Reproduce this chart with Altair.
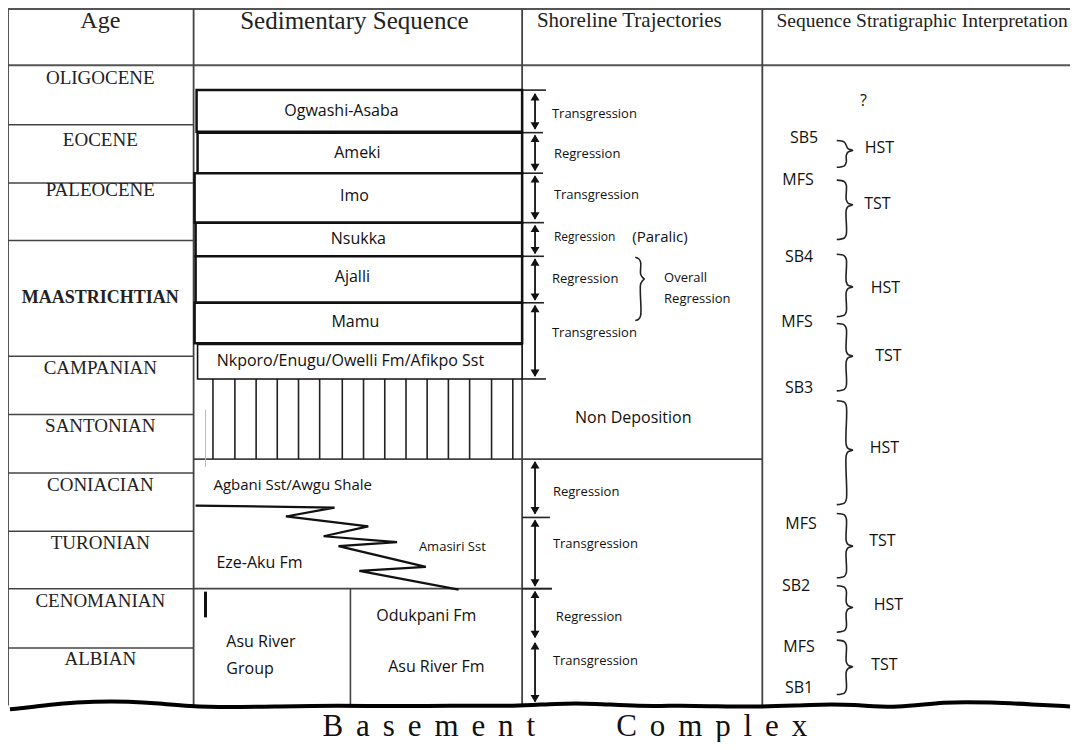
import altair as alt
import pandas as pd

# ------------------------------------------------------------------
# Data (positions are in the reference picture's pixel space)
# ------------------------------------------------------------------
X_DOMAIN = [8, 1078]
Y_DOMAIN = [6, 748]
W, H = 1062, 734
SERIF = "Liberation Serif"
SANS = "Open Sans"

headers = ["Age", "Sedimentary Sequence", "Shoreline Trajectories",
           "Sequence Stratigraphic Interpretation"]
header_x = [101, 357, 634, 929]
header_size = [24, 25, 21, 19.5]
header_y = 19

col_edges = [8, 195, 526, 768]
table_top, header_bottom, table_bottom, table_right = 7, 64, 711, 1078

ages = ["OLIGOCENE", "EOCENE", "PALEOCENE", "MAASTRICHTIAN", "CAMPANIAN",
        "SANTONIAN", "CONIACIAN", "TURONIAN", "CENOMANIAN", "ALBIAN"]
age_label_y = [77, 139, 190, 299, 370, 429, 488, 547, 605, 664]
age_bounds = [124, 183, 241, 358, 417, 476, 535, 593, 653]

formations = ["Ogwashi-Asaba", "Ameki", "Imo", "Nsukka", "Ajalli", "Mamu",
              "Nkporo/Enugu/Owelli Fm/Afikpo Sst"]
form_left = [198, 199, 196, 197, 197, 196, 199]
form_top = [89, 132, 173, 223, 257, 304, 346]
form_bottom = [131, 173, 223, 257, 304, 345, 381]
form_stroke = [2.5, 2.5, 2.5, 2.5, 2.5, 2.5, 1.6]
form_label_x = [344, 360, 357, 361, 355, 358, 353]
form_label_y = [110, 153, 196, 240, 278, 323, 363]

hatch_x = [214.5, 236.6, 258, 279.3, 300.7, 322, 344.8, 366.2, 387.6, 409,
           430.3, 451.7, 473.1, 495.2, 516.6]
hatch_top, hatch_bottom = 381, 462

lower_labels = ["Agbani Sst/Awgu Shale", "Eze-Aku Fm", "Amasiri Sst", "Odukpani Fm",
                "Asu River", "Group", "Asu River Fm"]
lower_x = [215, 218, 422, 379, 228, 228, 391]
lower_y = [488, 567, 551, 621, 647, 674, 672]
lower_size = [15, 16, 13, 16, 16, 16, 16]

zig_x = [197, 337, 288, 371, 326, 400, 341, 429, 362, 462]
zig_y = [509, 511, 520, 530, 540, 546, 550, 571, 575, 594]

arrow_x = 539
arrow_top = [90, 132, 173, 223, 257, 304, 462, 521, 593, 645]
arrow_bottom = [131, 173, 222, 257, 304, 381, 520, 593, 645, 710]
stub_y = [89, 132, 173, 223, 257, 304, 381, 521, 593]
stub_end = [550, 547, 547, 548, 548, 548, 550, 554, 556]

shore_labels = ["Transgression", "Regression", "Transgression", "Regression", "(Paralic)",
                "Regression", "Overall", "Regression", "Transgression",
                "Regression", "Transgression", "Regression", "Transgression"]
shore_x = [556, 558, 558, 558, 637, 556, 669, 669, 556, 557, 557, 560, 557]
shore_y = [113, 154, 195, 238, 237, 280, 279, 300, 335, 495, 548, 622, 666]
shore_size = [13, 13, 13, 12, 15, 13, 13, 13, 13, 13, 13, 13, 13]

non_dep = "Non Deposition"
non_dep_xy = (638, 420)

surfaces = ["?", "SB5", "MFS", "SB4", "MFS", "SB3", "MFS", "SB2", "MFS", "SB1"]
surf_x = [870, 810, 804, 805, 803, 805, 807, 802, 805, 805]
surf_y = [100, 137, 180, 258, 323, 390, 528, 590, 652, 693]

tracts = ["HST", "TST", "HST", "TST", "HST", "TST", "HST", "TST"]
tract_x = [886, 884, 892, 895, 891, 889, 895, 891]
tract_y = [148, 204, 289, 358, 451, 545, 610, 670]
brace_top = [140, 180, 255, 325, 403, 517, 590, 645]
brace_bottom = [167, 240, 318, 393, 508, 582, 637, 700]
brace_tip = [150, 205, 288, 358, 453, 550, 612, 672]

wave_x = [10, 30, 60, 95, 130, 160, 190, 230, 280, 340, 400, 460, 520, 560, 600,
          640, 700, 760, 820, 860, 905, 950, 1000, 1040, 1078]
wave_y = [715, 713, 709, 707, 707, 709, 712, 713, 712, 711, 712, 711, 712, 709, 709,
          712, 711, 713, 710, 710, 714, 707, 708, 710, 712]

basement_words = ["Basement", "Complex"]
basement_x = [432, 717]
basement_y = 733

# ------------------------------------------------------------------
xs = alt.Scale(domain=X_DOMAIN, nice=False, zero=False)
ys = alt.Scale(domain=Y_DOMAIN, nice=False, zero=False, reverse=True)


def X(f):
    return alt.X(f, type="quantitative", scale=xs, axis=None)


def Y(f):
    return alt.Y(f, type="quantitative", scale=ys, axis=None)


# ---------- straight lines ----------
rules = []
rules.append((8, table_top, table_right, table_top, 2, "#555"))
rules.append((8, header_bottom, table_right, header_bottom, 2, "#555"))
for cx in col_edges:
    rules.append((cx, table_top, cx, table_bottom, 1.8, "#444"))
for yb in age_bounds:
    rules.append((8, yb, col_edges[1], yb, 1.5, "#444"))
rules.append((195, hatch_bottom, 768, hatch_bottom, 1.8, "#444"))
rules.append((195, 593, 556, 593, 1.6, "#444"))
rules.append((353, 593, 353, table_bottom, 1.6, "#444"))
rules.append((207, 596, 207, 622, 3, "#111"))
rules.append((207, 412, 207, 470, 1, "#bbb"))
for hx in hatch_x:
    rules.append((hx, hatch_top, hx, hatch_bottom, 1.6, "#222"))
for sy, se in zip(stub_y, stub_end):
    rules.append((526, sy, se, sy, 1.6, "#222"))
for t, b in zip(arrow_top, arrow_bottom):
    rules.append((arrow_x, t + 3, arrow_x, b - 3, 1.8, "#111"))
rules_df = pd.DataFrame(rules, columns=["x", "y", "x2", "y2", "w", "c"])

rule_layer = alt.Chart(rules_df).mark_rule().encode(
    x=X("x"), x2=alt.X2("x2"), y=Y("y"), y2=alt.Y2("y2"),
    strokeWidth=alt.StrokeWidth("w:Q", scale=None),
    color=alt.Color("c:N", scale=None),
)

# ---------- formation boxes ----------
boxes_df = pd.DataFrame({"x": form_left, "x2": [526] * len(form_left),
                         "y": form_top, "y2": form_bottom, "w": form_stroke})
box_layer = alt.Chart(boxes_df).mark_rect(fill="white", stroke="#111").encode(
    x=X("x"), x2=alt.X2("x2"), y=Y("y"), y2=alt.Y2("y2"),
    strokeWidth=alt.StrokeWidth("w:Q", scale=None),
)

# ---------- arrow heads ----------
UP = "M0,0L0.6,1L-0.6,1Z"
DOWN = "M0,0L0.6,-1L-0.6,-1Z"
heads = []
for t, b in zip(arrow_top, arrow_bottom):
    heads.append((arrow_x, t + 2, UP))
    heads.append((arrow_x, b - 2, DOWN))
heads_df = pd.DataFrame(heads, columns=["x", "y", "s"])
head_layer = alt.Chart(heads_df).mark_point(
    filled=True, color="#111", opacity=1, size=220, strokeWidth=0
).encode(x=X("x"), y=Y("y"), shape=alt.Shape("s:N", scale=None))

# ---------- zigzag (interfingering) ----------
zig_df = pd.DataFrame({"x": zig_x, "y": zig_y, "o": list(range(len(zig_x)))})
zig_layer = alt.Chart(zig_df).mark_line(color="#111", strokeWidth=2.2).encode(
    x=X("x"), y=Y("y"), order=alt.Order("o:Q"))


# ---------- braces ----------
def brace_points(bid, x0, t, b, m, w):
    xv = x0 + w * 0.6
    xt = x0 + w
    pts = [(x0, t), (xv - 2, t + 1.5), (xv, t + 5), (xv, m - 5), (xv + 2, m - 1.5),
           (xt, m), (xv + 2, m + 1.5), (xv, m + 5), (xv, b - 5), (xv - 2, b - 1.5), (x0, b)]
    return [(bid, i, px, py) for i, (px, py) in enumerate(pts)]


brace_rows = []
for i, (t, b, m) in enumerate(zip(brace_top, brace_bottom, brace_tip)):
    brace_rows += brace_points(i, 843, t, b, m, 16)
brace_rows += brace_points(99, 640, 258, 322, 280, 9)
brace_df = pd.DataFrame(brace_rows, columns=["id", "o", "x", "y"])
brace_layer = alt.Chart(brace_df).mark_line(
    color="#222", strokeWidth=1.6, interpolate="catmull-rom"
).encode(x=X("x"), y=Y("y"), detail="id:N", order=alt.Order("o:Q"))

# ---------- basement wavy line ----------
wave_df = pd.DataFrame({"x": wave_x, "y": wave_y, "o": list(range(len(wave_x)))})
wave_layer = alt.Chart(wave_df).mark_line(
    color="#000", strokeWidth=4, interpolate="basis"
).encode(x=X("x"), y=Y("y"), order=alt.Order("o:Q"))


# ---------- text ----------
def text_layer(df, font, align, weight="normal", color="#111"):
    return alt.Chart(df).mark_text(
        font=font, align=align, baseline="middle", fontWeight=weight, color=color
    ).encode(x=X("x"), y=Y("y"), text="t:N", size=alt.Size("s:Q", scale=None))


hdr_df = pd.DataFrame({"t": headers, "x": header_x, "y": [header_y] * 4, "s": header_size})
age_names = [a for a in ages if a != "MAASTRICHTIAN"]
age_ys = [y for a, y in zip(ages, age_label_y) if a != "MAASTRICHTIAN"]
age_df = pd.DataFrame({"t": age_names, "x": [101] * len(age_names), "y": age_ys,
                       "s": [19] * len(age_names)})
maas_df = pd.DataFrame({"t": ["MAASTRICHTIAN"], "x": [101],
                        "y": [age_label_y[ages.index("MAASTRICHTIAN")]], "s": [18]})

form_df = pd.DataFrame({"t": formations + [non_dep],
                        "x": form_label_x + [non_dep_xy[0]],
                        "y": form_label_y + [non_dep_xy[1]],
                        "s": [16] * len(formations) + [16]})
left_df = pd.DataFrame({"t": lower_labels + shore_labels,
                        "x": lower_x + shore_x,
                        "y": lower_y + shore_y,
                        "s": lower_size + shore_size})
seq_df = pd.DataFrame({"t": surfaces + tracts, "x": surf_x + tract_x,
                       "y": surf_y + tract_y, "s": [16] * (len(surfaces) + len(tracts))})

GAP = "\u00a0\u2006"
base_df = pd.DataFrame({"t": [GAP.join(list(w)) for w in basement_words],
                        "x": basement_x, "y": [basement_y] * 2, "s": [31, 31]})

chart = alt.layer(
    rule_layer,
    box_layer,
    zig_layer,
    brace_layer,
    wave_layer,
    head_layer,
    text_layer(hdr_df, SERIF, "center", color="#222"),
    text_layer(age_df, SERIF, "center", color="#222"),
    text_layer(maas_df, SERIF, "center", weight="bold", color="#222"),
    text_layer(form_df, SANS, "center"),
    text_layer(left_df, SANS, "left"),
    text_layer(seq_df, SANS, "center"),
    text_layer(base_df, SERIF, "center", color="#111"),
).properties(
    width=W, height=H, padding=0,
    autosize=alt.AutoSizeParams(type="none"),
    background="white",
).configure_view(stroke=None)

chart.save("out.html", embed_options={"renderer": "svg", "actions": False})
